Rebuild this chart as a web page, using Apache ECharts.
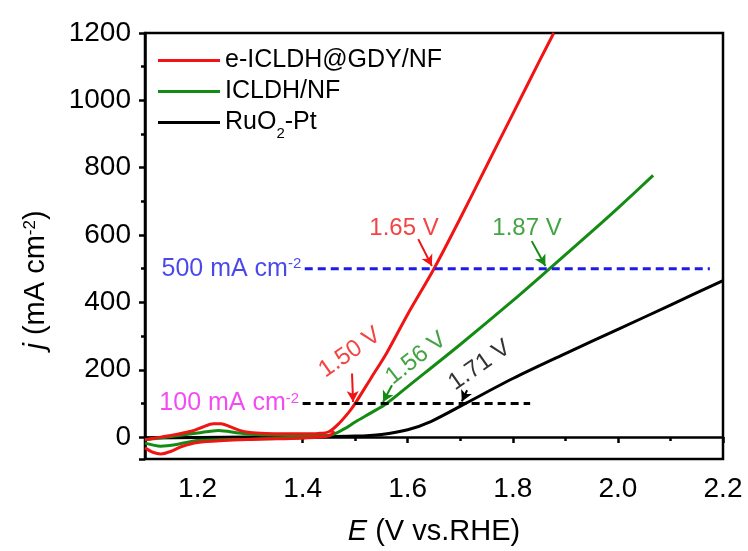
<!DOCTYPE html>
<html>
<head>
<meta charset="utf-8">
<script src="https://cdn.jsdelivr.net/npm/echarts@6/dist/echarts.min.js"></script>
<style>
  html, body { margin: 0; padding: 0; background: #fff; }
  #chart { width: 748px; height: 551px; }
</style>
</head>
<body>
<div id="chart"></div>
<script>
// LSV curves, [E (V vs RHE), j (mA cm-2)]
const redUpper = [[1.10,-8],[1.13,0],[1.16,8],[1.19,18],[1.21,30],[1.23,40],[1.245,40],[1.26,32],[1.28,20],[1.30,14],[1.33,11],[1.36,10],[1.40,10],[1.43,11],[1.45,16],[1.47,42],[1.49,78],[1.50,100],[1.53,175],[1.56,250],[1.60,365],[1.65,500],[1.70,650],[1.75,805],[1.80,960],[1.85,1115],[1.878,1200]];
const redLower = [[1.10,-32],[1.115,-45],[1.13,-50],[1.15,-42],[1.17,-28],[1.20,-16],[1.25,-10],[1.30,-7],[1.35,-5],[1.40,-3],[1.45,4],[1.46,18]];
const greenUpper = [[1.10,-8],[1.15,2],[1.20,12],[1.24,20],[1.28,12],[1.32,7],[1.40,5],[1.45,5],[1.48,25],[1.50,45],[1.53,72],[1.56,100],[1.60,150],[1.70,275],[1.80,405],[1.87,500],[1.95,610],[2.00,680],[2.067,777]];
const greenLower = [[1.10,-18],[1.13,-27],[1.16,-22],[1.20,-10],[1.30,-6],[1.40,-2],[1.45,5]];
const blackCurve = [[1.10,-3],[1.20,-1],[1.30,0],[1.40,1],[1.50,3],[1.55,8],[1.60,22],[1.645,47],[1.71,100],[1.80,174],[1.90,248],[2.00,320],[2.10,392],[2.20,465]];

// reference current lines
const line500 = [[1.404,500],[2.175,500]];
const line100 = [[1.40,100],[1.833,100]];

// annotation texts [x, y, text, rotate]
const redNotes = [[1.593,621,'1.65 V',0],[1.490,251,'1.50 V',35]];
const greenNotes = [[1.827,621,'1.87 V',0],[1.616,234,'1.56 V',38]];
const blackNotes = [[1.737,213,'1.71 V',35]];

// arrows [[x1,y1],[x2,y2]]
const redArrows = [[[1.620,588],[1.646,508]],[[1.494,189],[1.496,104]]];
const greenArrows = [[[1.836,582],[1.862,508]],[[1.570,154],[1.553,104]]];
const blackArrows = [[[1.713,139],[1.703,106]]];

const names = ['e-ICLDH@GDY/NF','ICLDH/NF','RuO2-Pt'];
const RED = '#f01414', GREEN = '#148c14', BLACK = '#000000', BLUE = '#1c1ce6', MAGENTA = '#f01ef0';
const FONT = 'Liberation Sans';

function noteSeries(notes, color) {
  return {
    type: 'scatter', silent: true, symbolSize: 1, itemStyle: { color: 'rgba(0,0,0,0)' },
    data: notes.map(n => ({ value: [n[0], n[1]], label: { rotate: n[3], formatter: n[2] } })),
    label: { show: true, position: 'inside', color: color, fontSize: 24, fontFamily: FONT },
    z: 5
  };
}
function refLabel(pt, text, color) {
  return {
    type: 'scatter', silent: true, symbolSize: 1, itemStyle: { color: 'rgba(0,0,0,0)' },
    data: [pt], z: 5,
    label: {
      show: true, position: 'left', distance: 3, formatter: text + ' mA cm{sup|-2}',
      color: color, fontSize: 25, fontFamily: FONT,
      rich: { sup: { fontSize: 15, fontFamily: FONT, color: color, verticalAlign: 'top' } }
    }
  };
}
function arrowLines(arrows, color) {
  return {
    silent: true, symbol: ['none','arrow'], symbolSize: [9, 11], animation: false,
    lineStyle: { color: color, width: 2, type: 'solid' }, label: { show: false },
    data: arrows.map(a => [{ coord: a[0] }, { coord: a[1] }])
  };
}

const chart = echarts.init(document.getElementById('chart'));
chart.setOption({
  animation: false,
  grid: { left: 145, right: 25, top: 33, bottom: 90, show: true, borderColor: '#000', borderWidth: 2.5, backgroundColor: 'transparent' },
  legend: {
    data: names, orient: 'vertical', left: 153, top: 43, icon: 'rect', itemWidth: 62, itemHeight: 3, itemGap: 6,
    textStyle: { fontSize: 25, fontFamily: FONT, color: '#000', rich: { sub: { fontSize: 15, fontFamily: FONT, verticalAlign: 'bottom', padding: [0,0,-6,0] } } },
    formatter: n => n === 'RuO2-Pt' ? 'RuO{sub|2}-Pt' : n
  },
  xAxis: {
    type: 'value', min: 1.1, max: 2.2, minInterval: 0.2, maxInterval: 0.2, splitNumber: 5,
    name: '{i|E} (V vs.RHE)', nameLocation: 'middle', nameGap: 58,
    nameTextStyle: { fontSize: 29, fontFamily: FONT, color: '#000', rich: { i: { fontSize: 29, fontFamily: FONT, fontStyle: 'italic' } } },
    axisLine: { lineStyle: { color: '#000', width: 2.5 } },
    axisTick: { inside: false, length: 6, lineStyle: { width: 2.5 } },
    minorTick: { show: true, splitNumber: 2, length: 4, lineStyle: { color: '#000', width: 2.5 } },
    axisLabel: { showMinLabel: false, margin: 16, fontSize: 28, fontFamily: FONT, color: '#000', formatter: v => v.toFixed(1) },
    splitLine: { show: false }
  },
  yAxis: {
    type: 'value', min: -65, max: 1200, minInterval: 200, maxInterval: 200, splitNumber: 6,
    axisLine: { lineStyle: { color: '#000', width: 2.5 } },
    axisTick: { inside: false, length: 6, lineStyle: { width: 2.5 } },
    minorTick: { show: true, splitNumber: 2, length: 4, lineStyle: { color: '#000', width: 2.5 } },
    axisLabel: { showMinLabel: false, margin: 14, fontSize: 28, fontFamily: FONT, color: '#000', formatter: v => String(v) },
    splitLine: { show: false }
  },
  graphic: [{
    type: 'text', x: 36, y: 280, rotation: Math.PI / 2,
    style: {
      text: '{i|j} (mA cm{sup|-2})', align: 'center', verticalAlign: 'middle',
      fontSize: 29, fontFamily: FONT, fill: '#000',
      rich: { i: { fontSize: 29, fontFamily: FONT, fontStyle: 'italic' }, sup: { fontSize: 17, fontFamily: FONT, verticalAlign: 'top' } }
    }
  }],
  series: [
    { name: names[0], type: 'line', data: redUpper, symbol: 'none', smooth: 0.3, lineStyle: { color: RED, width: 3 }, itemStyle: { color: RED }, z: 4, markLine: arrowLines(redArrows, RED) },
    { name: names[0], type: 'line', data: redLower, symbol: 'none', smooth: 0.3, lineStyle: { color: RED, width: 3 }, itemStyle: { color: RED }, z: 4 },
    { name: names[1], type: 'line', data: greenUpper, symbol: 'none', smooth: 0.3, lineStyle: { color: GREEN, width: 3 }, itemStyle: { color: GREEN }, z: 3, markLine: arrowLines(greenArrows, GREEN) },
    { name: names[1], type: 'line', data: greenLower, symbol: 'none', smooth: 0.3, lineStyle: { color: GREEN, width: 3 }, itemStyle: { color: GREEN }, z: 3 },
    { name: names[2], type: 'line', data: blackCurve, symbol: 'none', smooth: 0.3, lineStyle: { color: BLACK, width: 3 }, itemStyle: { color: BLACK }, z: 2, markLine: arrowLines(blackArrows, BLACK) },
    { type: 'line', data: line500, symbol: 'none', silent: true, z: 6, lineStyle: { color: BLUE, width: 3, type: [8, 5] } },
    { type: 'line', data: line100, symbol: 'none', silent: true, z: 6, lineStyle: { color: BLACK, width: 3, type: [8, 5] } },
    refLabel(line500[0], '500', BLUE),
    refLabel(line100[0], '100', MAGENTA),
    noteSeries(redNotes, RED),
    noteSeries(greenNotes, GREEN),
    noteSeries(blackNotes, BLACK)
  ]
});
</script>
</body>
</html>
